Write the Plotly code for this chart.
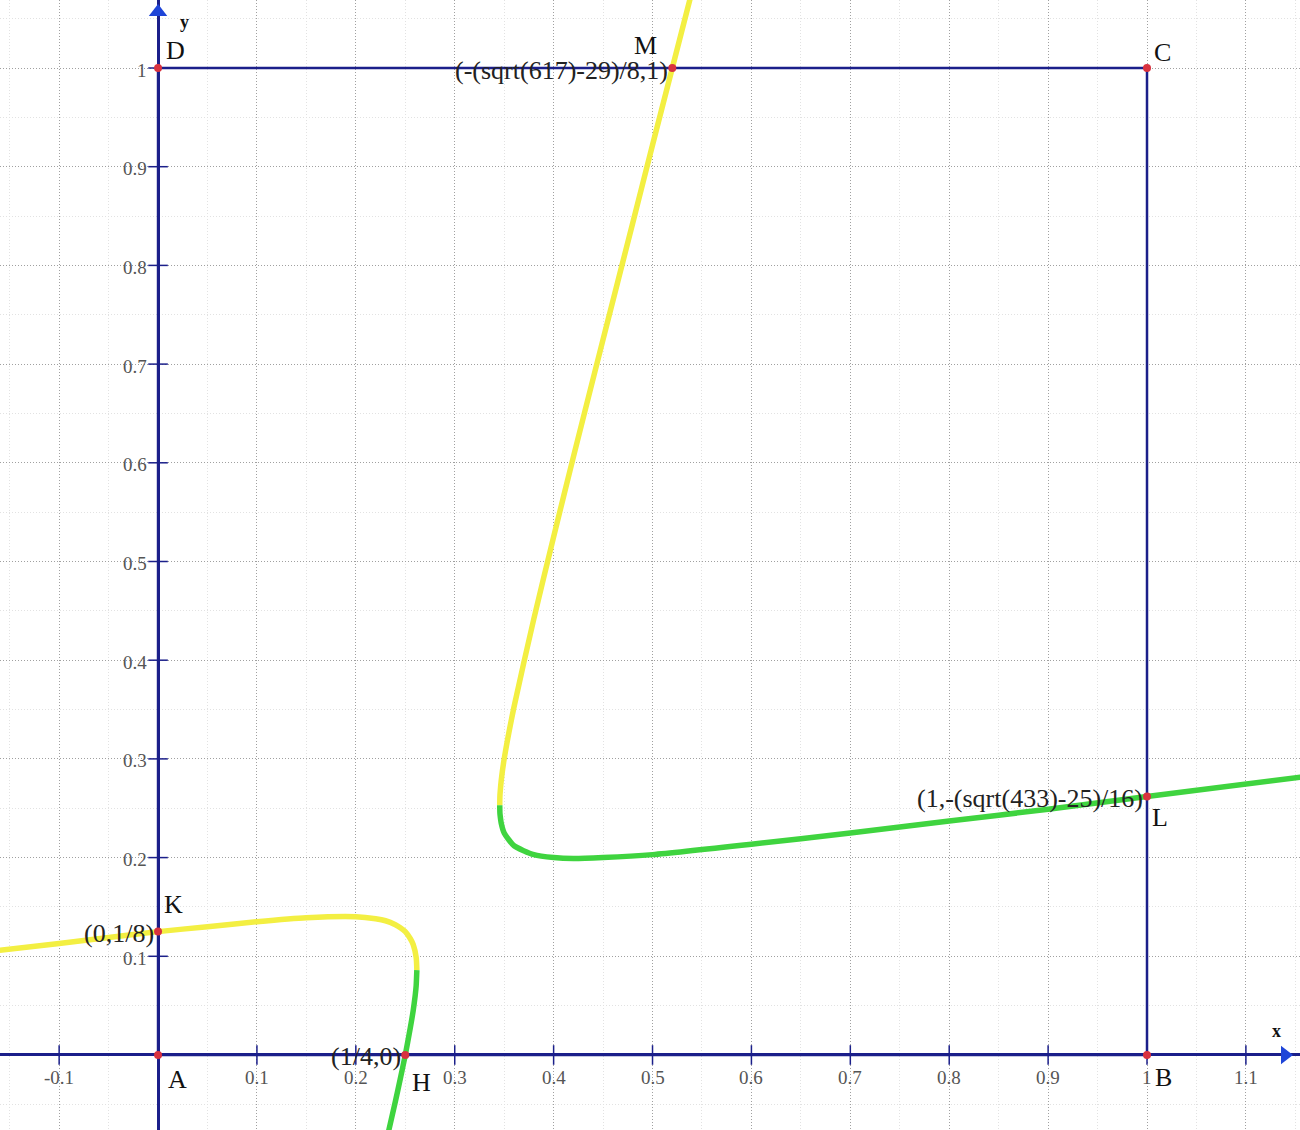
import plotly.graph_objects as go

# ---- data ----
lower_yellow_x = [-0.16, -0.10, -0.05, 0.0, 0.05, 0.10, 0.15, 0.20, 0.22, 0.23, 0.24, 0.245, 0.25, 0.255, 0.258, 0.261, 0.2617]
lower_yellow_y = [0.106, 0.113, 0.119, 0.125, 0.130, 0.135, 0.139, 0.140, 0.138, 0.136, 0.132, 0.129, 0.125, 0.118, 0.112, 0.099, 0.086]

lower_green_x = [0.2617, 0.261, 0.26, 0.258, 0.255, 0.25, 0.245, 0.24, 0.23]
lower_green_y = [0.086, 0.070, 0.060, 0.045, 0.027, 0.0, -0.024, -0.047, -0.091]

upper_yellow_x = [0.3455, 0.3457, 0.346, 0.347, 0.35, 0.36, 0.38, 0.40, 0.42, 0.45, 0.48, 0.50, 0.52, 0.54]
upper_yellow_y = [0.253, 0.2625, 0.267, 0.278, 0.300, 0.353, 0.442, 0.525, 0.606, 0.725, 0.843, 0.922, 1.000, 1.078]

upper_green_x = [0.3455, 0.3457, 0.346, 0.347, 0.35, 0.36, 0.38, 0.40, 0.42, 0.45, 0.50, 0.60, 0.70, 0.80, 0.90, 1.00, 1.16]
upper_green_y = [0.253, 0.245, 0.242, 0.235, 0.225, 0.212, 0.203, 0.200, 0.199, 0.200, 0.203, 0.2135, 0.225, 0.237, 0.249, 0.262, 0.282]

square_x = [0, 1, 1, 0, 0]
square_y = [0, 0, 1, 1, 0]

point_names = ["A", "B", "C", "D", "K", "H", "L", "M"]
point_x = [0, 1, 1, 0, 0, 0.25, 1, 0.520]
point_y = [0, 0, 1, 1, 0.125, 0, 0.262, 1]
# pixel offsets of the letter labels
name_dx = [19, 16, 15, 17, 15, 16, 13, -27]
name_dy = [-25, -23, 16, 18, 27, -28, -21, 23]

coord_labels = ["(0,1/8)", "(1/4,0)", "(1,-(sqrt(433)-25)/16)", "(-(sqrt(617)-29)/8,1)"]
coord_x = [0, 0.25, 1, 0.520]
coord_y = [0.125, 0, 0.262, 1]

x_ticks = [-0.1, 0.1, 0.2, 0.3, 0.4, 0.5, 0.6, 0.7, 0.8, 0.9, 1.0, 1.1]
x_tick_labels = ["-0.1", "0.1", "0.2", "0.3", "0.4", "0.5", "0.6", "0.7", "0.8", "0.9", "1", "1.1"]
y_ticks = [0.1, 0.2, 0.3, 0.4, 0.5, 0.6, 0.7, 0.8, 0.9, 1.0]
y_tick_labels = ["0.1", "0.2", "0.3", "0.4", "0.5", "0.6", "0.7", "0.8", "0.9", "1"]

NAVY = "#1b1f8a"
YELLOW = "#f3ef42"
GREEN = "#3fd43f"
RED = "#d8323f"
ARROW = "#1f45d8"
SERIF = "Liberation Serif, Times New Roman, serif"

fig = go.Figure()

# square ABCD
fig.add_trace(go.Scatter(x=square_x, y=square_y, mode="lines",
                         line=dict(color=NAVY, width=2.5), hoverinfo="skip"))

# tick marks on the axes
fig.add_trace(go.Scatter(x=x_ticks, y=[0] * len(x_ticks), mode="markers",
                         marker=dict(symbol="line-ns", size=14, line=dict(color=NAVY, width=1.5)),
                         hoverinfo="skip"))
fig.add_trace(go.Scatter(x=[0] * len(y_ticks), y=y_ticks, mode="markers",
                         marker=dict(symbol="line-ew", size=14, line=dict(color=NAVY, width=1.5)),
                         hoverinfo="skip"))

# curves
for xs, ys, col in [(lower_yellow_x, lower_yellow_y, YELLOW),
                    (lower_green_x, lower_green_y, GREEN),
                    (upper_yellow_x, upper_yellow_y, YELLOW),
                    (upper_green_x, upper_green_y, GREEN)]:
    fig.add_trace(go.Scatter(x=xs, y=ys, mode="lines",
                             line=dict(color=col, width=5.5, shape="spline", smoothing=0.6),
                             hoverinfo="skip"))

# axis arrows
fig.add_trace(go.Scatter(x=[1.1395], y=[0], mode="markers",
                         marker=dict(symbol="triangle-right", size=16, color=ARROW), hoverinfo="skip"))
fig.add_trace(go.Scatter(x=[0], y=[1.0567], mode="markers",
                         marker=dict(symbol="triangle-up", size=16, color=ARROW), hoverinfo="skip"))

# points
fig.add_trace(go.Scatter(x=point_x, y=point_y, mode="markers",
                         marker=dict(size=8, color=RED), hoverinfo="skip"))

annotations = []
for t, lab in zip(x_ticks, x_tick_labels):
    annotations.append(dict(x=t, y=0, text=lab, showarrow=False, xanchor="center", yanchor="middle",
                            yshift=-23, font=dict(family=SERIF, size=19, color="#555")))
for t, lab in zip(y_ticks, y_tick_labels):
    annotations.append(dict(x=0, y=t, text=lab, showarrow=False, xanchor="right", yanchor="middle",
                            xshift=-9, yshift=-2, font=dict(family=SERIF, size=19, color="#555")))
for n, px, py, dx, dy in zip(point_names, point_x, point_y, name_dx, name_dy):
    annotations.append(dict(x=px, y=py, text=n, showarrow=False, xanchor="center", yanchor="middle",
                            xshift=dx, yshift=dy, font=dict(family=SERIF, size=26, color="#111")))
for lab, cx, cy in zip(coord_labels, coord_x, coord_y):
    annotations.append(dict(x=cx, y=cy, text=lab, showarrow=False, xanchor="right", yanchor="middle",
                            xshift=-2, yshift=-2, font=dict(family=SERIF, size=26, color="#222")))
annotations.append(dict(x=0, y=1.0567, text="<b>y</b>", showarrow=False, xanchor="center", yanchor="middle",
                        xshift=26, yshift=-10, font=dict(family=SERIF, size=18, color="#111")))
annotations.append(dict(x=1.1395, y=0, text="<b>x</b>", showarrow=False, xanchor="center", yanchor="middle",
                        xshift=-8, yshift=24, font=dict(family=SERIF, size=18, color="#111")))

fig.update_layout(
    width=1300, height=1130,
    margin=dict(l=0, r=0, t=0, b=0),
    paper_bgcolor="white", plot_bgcolor="white",
    showlegend=False,
    annotations=annotations,
    xaxis=dict(range=[-0.1598, 1.1547], tick0=0, dtick=0.1, showticklabels=False, ticks="",
               showgrid=True, gridcolor="#a0a0a0", gridwidth=1, griddash="1px,2px",
               zeroline=True, zerolinecolor=NAVY, zerolinewidth=3,
               minor=dict(dtick=0.05, showgrid=True, gridcolor="#e2e2e2", griddash="1px,2px", gridwidth=1),
               fixedrange=True),
    yaxis=dict(range=[-0.0760, 1.0689], tick0=0, dtick=0.1, showticklabels=False, ticks="",
               showgrid=True, gridcolor="#a0a0a0", gridwidth=1, griddash="1px,2px",
               zeroline=True, zerolinecolor=NAVY, zerolinewidth=3,
               minor=dict(dtick=0.05, showgrid=True, gridcolor="#e2e2e2", griddash="1px,2px", gridwidth=1),
               fixedrange=True),
)

fig.write_html("out.html", config={"displayModeBar": False},
               post_script="document.body.style.margin='0px';")
